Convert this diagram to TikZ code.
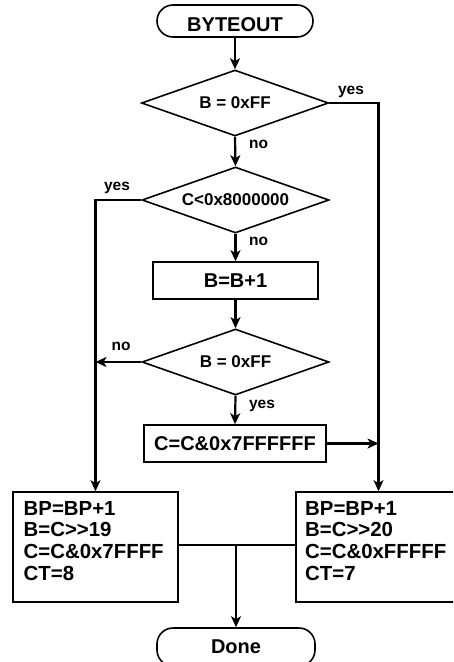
\documentclass[tikz,border=0pt]{standalone}
\usepackage{fontspec}
\setmainfont{Liberation Sans}
\usetikzlibrary{shapes.geometric,arrows.meta}
\begin{document}
\begin{tikzpicture}[x=1pt,y=-1pt,
  shapeline/.style={draw=black,line width=1.6pt},
  term/.style={shapeline,rectangle,rounded corners=16pt,minimum width=156pt,minimum height=32pt,inner sep=0pt,font=\bfseries\fontsize{20}{24}\selectfont},
  decision/.style={shapeline,diamond,aspect=2.83,minimum width=187pt,minimum height=66pt,inner sep=0pt,font=\bfseries\fontsize{17}{20}\selectfont},
  process/.style={shapeline,rectangle,minimum height=37pt,inner sep=0pt,font=\bfseries\fontsize{20}{24}\selectfont},
  bigbox/.style={shapeline,rectangle,minimum width=165pt,minimum height=110pt,inner sep=0pt},
  boxtext/.style={anchor=north west,inner sep=0pt,align=left,font=\bfseries\fontsize{20.4}{21.7}\selectfont},
  flow/.style={draw=black,line width=2.2pt,-{Stealth[length=11pt,width=10pt,inset=3pt]}},
  thinline/.style={draw=black,line width=1.2pt},
  lbl/.style={anchor=base,inner sep=0pt,font=\bfseries\fontsize{15.5}{18}\selectfont}
]
\useasboundingbox (0,0) rectangle (453,662);
\clip (0,0) rectangle (453,662);
\fill[white] (0,0) rectangle (453,662);

% shapes
\node[term,text height=21pt,text depth=0pt] (start) at (235,21) {BYTEOUT};
\node[decision] (d1) at (235,103) {B = 0xFF};
\node[decision] (d2) at (235.5,200) {C<0x8000000};
\node[process,minimum width=165pt] (b1) at (235.5,280.5) {B=B+1};
\node[decision] (d3) at (235.5,362) {B = 0xFF};
\node[process,minimum width=182pt] (b2) at (235,443.5) {C=C\&0x7FFFFFF};
\node[bigbox] (lb) at (95.5,547) {};
\node[bigbox] (rb) at (378.5,547) {};
\node[boxtext] (lt) at (23.5,501) {BP=BP+1\\B=C>{}>19\\C=C\&0x7FFFF\\CT=8};
\node[boxtext] (rt) at (305,501) {BP=BP+1\\B=C>{}>20\\C=C\&0xFFFFF\\CT=7};
\node[term,minimum width=158pt,minimum height=38pt] (done) at (236,647) {Done};

% connectors
\draw[flow] (start.south) -- (d1.north);
\draw[flow] (d1.south) -- (d2.north);
\draw[flow] (d2.south) -- (b1.north);
\draw[flow] (b1.south) -- (d3.north);
\draw[flow] (d3.south) -- (b2.north);
\draw[flow] (d1.east) -| (rb.north);
\draw[flow] (d2.west) -| (lb.north);
\draw[flow] (d3.west) -- (d3.west -| lb.north);
\draw[flow] (b2.east) -- (b2.east -| rb.north);
\coordinate (jl) at ([yshift=2pt]lb.east);
\coordinate (jr) at ([yshift=2pt]rb.west);
\draw[thinline] (jl) -- (jr);
\coordinate (j) at (jl -| done.north);
\draw[flow] (j) -- (done.north);

% labels
\node[lbl] (yes1) at (351,94) {yes};
\node[lbl] (no1) at (258.5,148) {no};
\node[lbl] (yes2) at (117,190) {yes};
\node[lbl] (no2) at (258.5,245) {no};
\node[lbl] (no3) at (121,350.5) {no};
\node[lbl] (yes3) at (262,408) {yes};
\end{tikzpicture}
\end{document}
